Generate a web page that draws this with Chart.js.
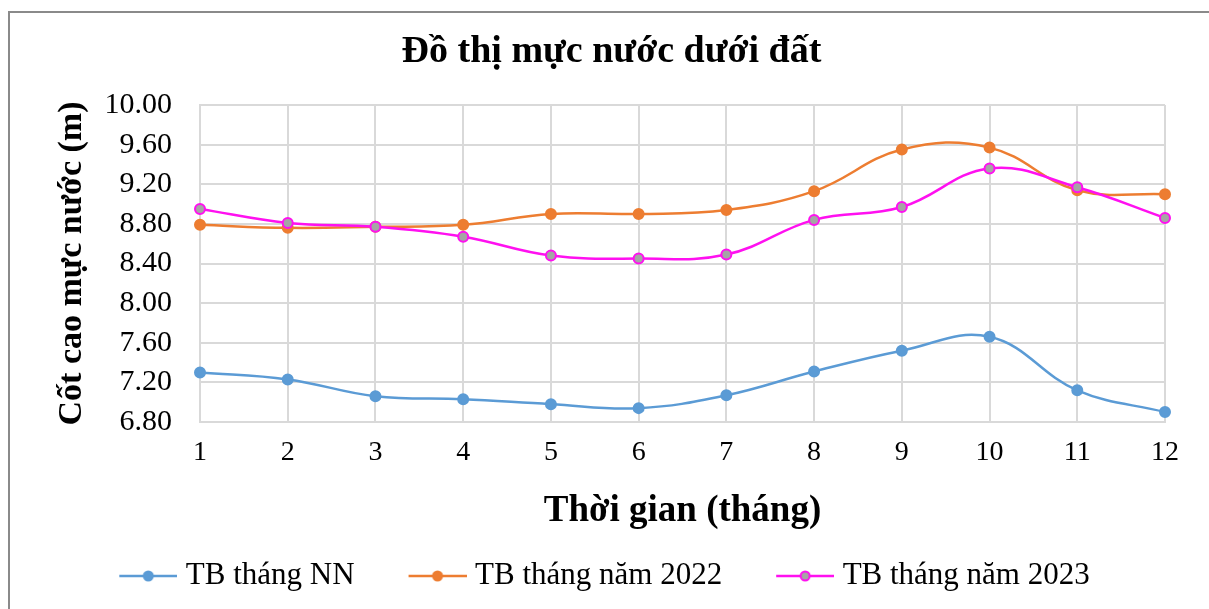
<!DOCTYPE html>
<html>
<head>
<meta charset="utf-8">
<script src="https://cdn.jsdelivr.net/npm/chart.js@4.4.1/dist/chart.umd.min.js"></script>
<style>
    html, body { margin: 0; padding: 0; background: #fff; }
    #wrap { width: 1209px; height: 609px; position: relative; }
</style>
</head>
<body>
<div id="wrap"><canvas id="waterChart" width="1209" height="609"></canvas></div>
<script>
// Data
const months = ['1', '2', '3', '4', '5', '6', '7', '8', '9', '10', '11', '12'];
const avgLongTerm = [7.30, 7.23, 7.06, 7.03, 6.98, 6.94, 7.07, 7.31, 7.52, 7.66, 7.12, 6.90];
const avg2022 = [8.79, 8.76, 8.77, 8.79, 8.90, 8.90, 8.94, 9.13, 9.55, 9.57, 9.14, 9.10];
const avg2023 = [8.95, 8.81, 8.77, 8.67, 8.48, 8.45, 8.49, 8.84, 8.97, 9.36, 9.17, 8.86];
const seriesNames = ['TB tháng NN', 'TB tháng năm 2022', 'TB tháng năm 2023'];

const SERIF = "'Liberation Serif', 'Times New Roman', serif";
const colors = ['#5b9bd5', '#ed7d31', '#ff10f0'];
const pointFills = ['#5b9bd5', '#ed7d31', '#a5a5a5'];

// small line + marker image used in the legend
function legendSwatch(color, fill) {
    const c = document.createElement('canvas');
    c.width = 109;
    c.height = 14;
    const g = c.getContext('2d');
    g.strokeStyle = color;
    g.lineWidth = 2.5;
    g.beginPath();
    g.moveTo(51, 7);
    g.lineTo(109, 7);
    g.stroke();
    g.beginPath();
    g.arc(80, 7, 4.5, 0, Math.PI * 2);
    g.fillStyle = fill;
    g.fill();
    g.lineWidth = 2;
    g.stroke();
    return c;
}

// gray frame around the whole chart (right side runs off the picture)
const framePlugin = {
    id: 'frame',
    afterLayout(chart) {
        // the original title sits a bit right of the plot centre
        if (chart.titleBlock) {
            chart.titleBlock.left += 29;
            chart.titleBlock.right += 29;
        }
    },
    afterDraw(chart) {
        const ctx = chart.ctx;
        ctx.save();
        ctx.strokeStyle = '#8a8a8a';
        ctx.lineWidth = 2;
        ctx.strokeRect(9, 12, 1215, 610);
        ctx.restore();
    }
};

function initWaterChart() {
    const ctx = document.getElementById('waterChart').getContext('2d');
    const seriesData = [avgLongTerm, avg2022, avg2023];

    const datasets = seriesData.map((values, i) => ({
        label: seriesNames[i],
        data: values,
        borderColor: colors[i],
        backgroundColor: pointFills[i],
        pointBackgroundColor: pointFills[i],
        pointBorderColor: colors[i],
        pointBorderWidth: 2,
        pointRadius: 5,
        borderWidth: 2.5,
        tension: 0.4,
        fill: false,
        order: 3 - i
    }));

    new Chart(ctx, {
        type: 'line',
        data: { labels: months, datasets: datasets },
        plugins: [framePlugin],
        options: {
            responsive: false,
            animation: false,
            layout: { padding: { left: 0, right: 44, top: 12, bottom: 7.5 } },
            plugins: {
                title: {
                    display: true,
                    text: 'Đồ thị mực nước dưới đất',
                    color: '#000',
                    font: { family: SERIF, size: 38, weight: 'bold' },
                    padding: { top: 17, bottom: 30.4 }
                },
                legend: {
                    position: 'bottom',
                    labels: {
                        usePointStyle: true,
                        pointStyleWidth: 95,
                        padding: 10,
                        color: '#000',
                        font: { family: SERIF, size: 31 },
                        generateLabels: function() {
                            return seriesNames.map((name, i) => ({
                                text: name,
                                pointStyle: legendSwatch(colors[i], pointFills[i]),
                                fillStyle: colors[i],
                                strokeStyle: colors[i],
                                lineWidth: 0,
                                fontColor: '#000',
                                hidden: false,
                                datasetIndex: i
                            }));
                        }
                    }
                },
                tooltip: { enabled: false }
            },
            scales: {
                x: {
                    grid: { color: '#d9d9d9', lineWidth: 2, drawTicks: false },
                    border: { color: '#d9d9d9', width: 2 },
                    ticks: {
                        color: '#000',
                        padding: 14,
                        font: { family: SERIF, size: 28 }
                    },
                    title: {
                        display: true,
                        text: 'Thời gian (tháng)',
                        color: '#000',
                        font: { family: SERIF, size: 37, weight: 'bold' },
                        padding: { top: 4, bottom: 17 }
                    },
                    afterFit: function(scale) { scale.height = 128.5; }
                },
                y: {
                    min: 6.8,
                    max: 10,
                    grid: { color: '#d9d9d9', lineWidth: 2, drawTicks: false },
                    border: { color: '#d9d9d9', width: 2 },
                    ticks: {
                        stepSize: 0.4,
                        color: '#000',
                        padding: 28,
                        font: { family: SERIF, size: 30 },
                        callback: function(value) { return Number(value).toFixed(2); }
                    },
                    title: {
                        display: true,
                        text: 'Cốt cao mực nước (m)',
                        color: '#000',
                        font: { family: SERIF, size: 34, weight: 'bold' },
                        padding: { top: 52, bottom: 0 }
                    },
                    afterFit: function(scale) { scale.width = 200; }
                }
            }
        }
    });
}

document.addEventListener('DOMContentLoaded', initWaterChart);
</script>
</body>
</html>
